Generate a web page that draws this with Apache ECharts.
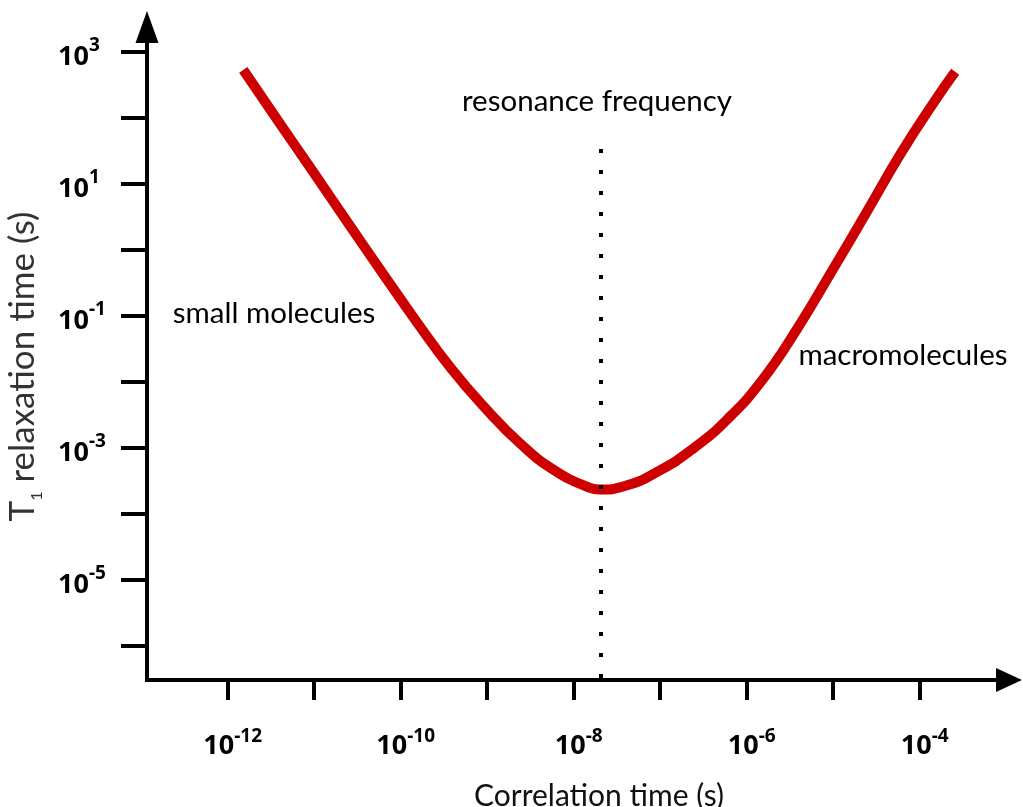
<!DOCTYPE html>
<html>
<head>
<meta charset="utf-8">
<title>T1 relaxation time vs correlation time</title>
<script src="https://cdn.jsdelivr.net/npm/echarts@6/dist/echarts.min.js"></script>
<style>
  html, body { margin: 0; padding: 0; background: #ffffff; }
  #chart { width: 1023px; height: 807px; }
</style>
</head>
<body>
<div id="chart"></div>
<script>
// Curve samples, stored as decimal exponents (log10 of seconds)
const logTau = [-11.82, -11.42, -11.02, -10.62, -10.22, -9.82, -9.42, -9.02, -8.62, -8.22,
                -7.82, -7.70, -7.42, -7.02, -6.62, -6.22, -5.82, -5.42, -5.02, -4.62,
                -4.22, -3.82, -3.59];
const logT1  = [2.73, 1.96, 1.20, 0.43, -0.33, -1.08, -1.79, -2.40, -2.93, -3.34,
                -3.60, -3.63, -3.58, -3.35, -3.01, -2.56, -1.97, -1.20, -0.33, 0.56,
                1.46, 2.27, 2.70];

// Decade ticks and the labelled decades on each axis
const xTickExps  = [-12, -11, -10, -9, -8, -7, -6, -5, -4];
const xLabelExps = [-12, -10, -8, -6, -4];
const yTickExps  = [-6, -5, -4, -3, -2, -1, 0, 1, 2, 3];
const yLabelExps = [-5, -3, -1, 1, 3];

// Resonance condition (dotted marker) and its upper end
const resonanceLogTau = -7.69;
const resonanceTopLogT1 = 1.53;

// Visible axis extents in decades
const xRange = [-12.933, -2.968];
const yRange = [-6.515, 3.379];

const textFont = 'Lato, "Open Sans", sans-serif';
const numFont = '"Open Sans", Lato, sans-serif';
const curvePoints = logTau.map((t, i) => [t, logT1[i]]);

const powerLabel = v => '{b|10}{s|' + v + '}';

const chart = echarts.init(document.getElementById('chart'), null, { renderer: 'canvas' });

chart.setOption({
  animation: false,
  backgroundColor: '#ffffff',
  grid: { left: 147, right: 14, top: 27, bottom: 127, containLabel: false, outerBoundsMode: 'none' },
  xAxis: {
    type: 'value',
    min: xRange[0],
    max: xRange[1],
    splitLine: { show: false },
    axisLine: {
      onZero: false,
      symbol: ['none', 'triangle'],
      symbolSize: [24, 26],
      lineStyle: { color: '#000', width: 4, cap: 'square' }
    },
    axisTick: {
      customValues: xTickExps,
      length: 20,
      lineStyle: { color: '#000', width: 4 }
    },
    axisLabel: {
      customValues: xLabelExps,
      formatter: powerLabel,
      margin: 47,
      align: 'center',
      rich: {
        b: { fontFamily: numFont, fontWeight: 'bold', fontSize: 27, lineHeight: 32, color: '#000', padding: [7, 0, 0, 10] },
        s: { fontFamily: numFont, fontWeight: 'bold', fontSize: 19, lineHeight: 19, color: '#000', verticalAlign: 'top' }
      }
    },
    name: 'Correlation time (s)',
    nameLocation: 'middle',
    nameGap: 101,
    nameTextStyle: { fontFamily: textFont, fontSize: 30, color: '#111', padding: [0, 0, 0, 42] }
  },
  yAxis: {
    type: 'value',
    min: yRange[0],
    max: yRange[1],
    splitLine: { show: false },
    axisLine: {
      onZero: false,
      symbol: ['none', 'triangle'],
      symbolSize: [23, 32],
      lineStyle: { color: '#000', width: 4, cap: 'square' }
    },
    axisTick: {
      customValues: yTickExps,
      length: 26,
      lineStyle: { color: '#000', width: 4 }
    },
    axisLabel: {
      customValues: yLabelExps,
      formatter: powerLabel,
      margin: 89,
      align: 'left',
      verticalAlign: 'middle',
      rich: {
        b: { fontFamily: numFont, fontWeight: 'bold', fontSize: 27, lineHeight: 32, color: '#000', padding: [10, 0, 0, 0] },
        s: { fontFamily: numFont, fontWeight: 'bold', fontSize: 19, lineHeight: 19, color: '#000', verticalAlign: 'top' }
      }
    },
    name: '{t|T}{sub|1}{t| relaxation time (s)}',
    nameLocation: 'middle',
    nameGap: 85,
    nameTextStyle: {
      padding: [0, 26, 0, 0],
      rich: {
        t: { fontFamily: textFont, fontSize: 35, lineHeight: 38, color: '#333', padding: [0, 0, 7, 0] },
        sub: { fontFamily: textFont, fontSize: 16, lineHeight: 16, color: '#333', verticalAlign: 'bottom' }
      }
    }
  },
  series: [{
    type: 'line',
    data: curvePoints,
    smooth: true,
    showSymbol: false,
    silent: true,
    lineStyle: { color: '#CC0000', width: 10 },
    markLine: {
      silent: true,
      symbol: ['none', 'none'],
      label: { show: false },
      lineStyle: { color: '#000', width: 4, type: [4, 17], cap: 'butt' },
      data: [[
        { coord: [resonanceLogTau, resonanceTopLogT1] },
        { coord: [resonanceLogTau, yRange[0]] }
      ]]
    }
  }],
  graphic: [
    { type: 'text', x: 597, y: 101, style: { text: 'resonance frequency', font: '29.5px ' + textFont, fill: '#000', textAlign: 'center', textVerticalAlign: 'middle' } },
    { type: 'text', x: 274, y: 313, style: { text: 'small molecules', font: '29.5px ' + textFont, fill: '#000', textAlign: 'center', textVerticalAlign: 'middle' } },
    { type: 'text', x: 903, y: 355, style: { text: 'macromolecules', font: '29.5px ' + textFont, fill: '#000', textAlign: 'center', textVerticalAlign: 'middle' } }
  ]
});
</script>
</body>
</html>
